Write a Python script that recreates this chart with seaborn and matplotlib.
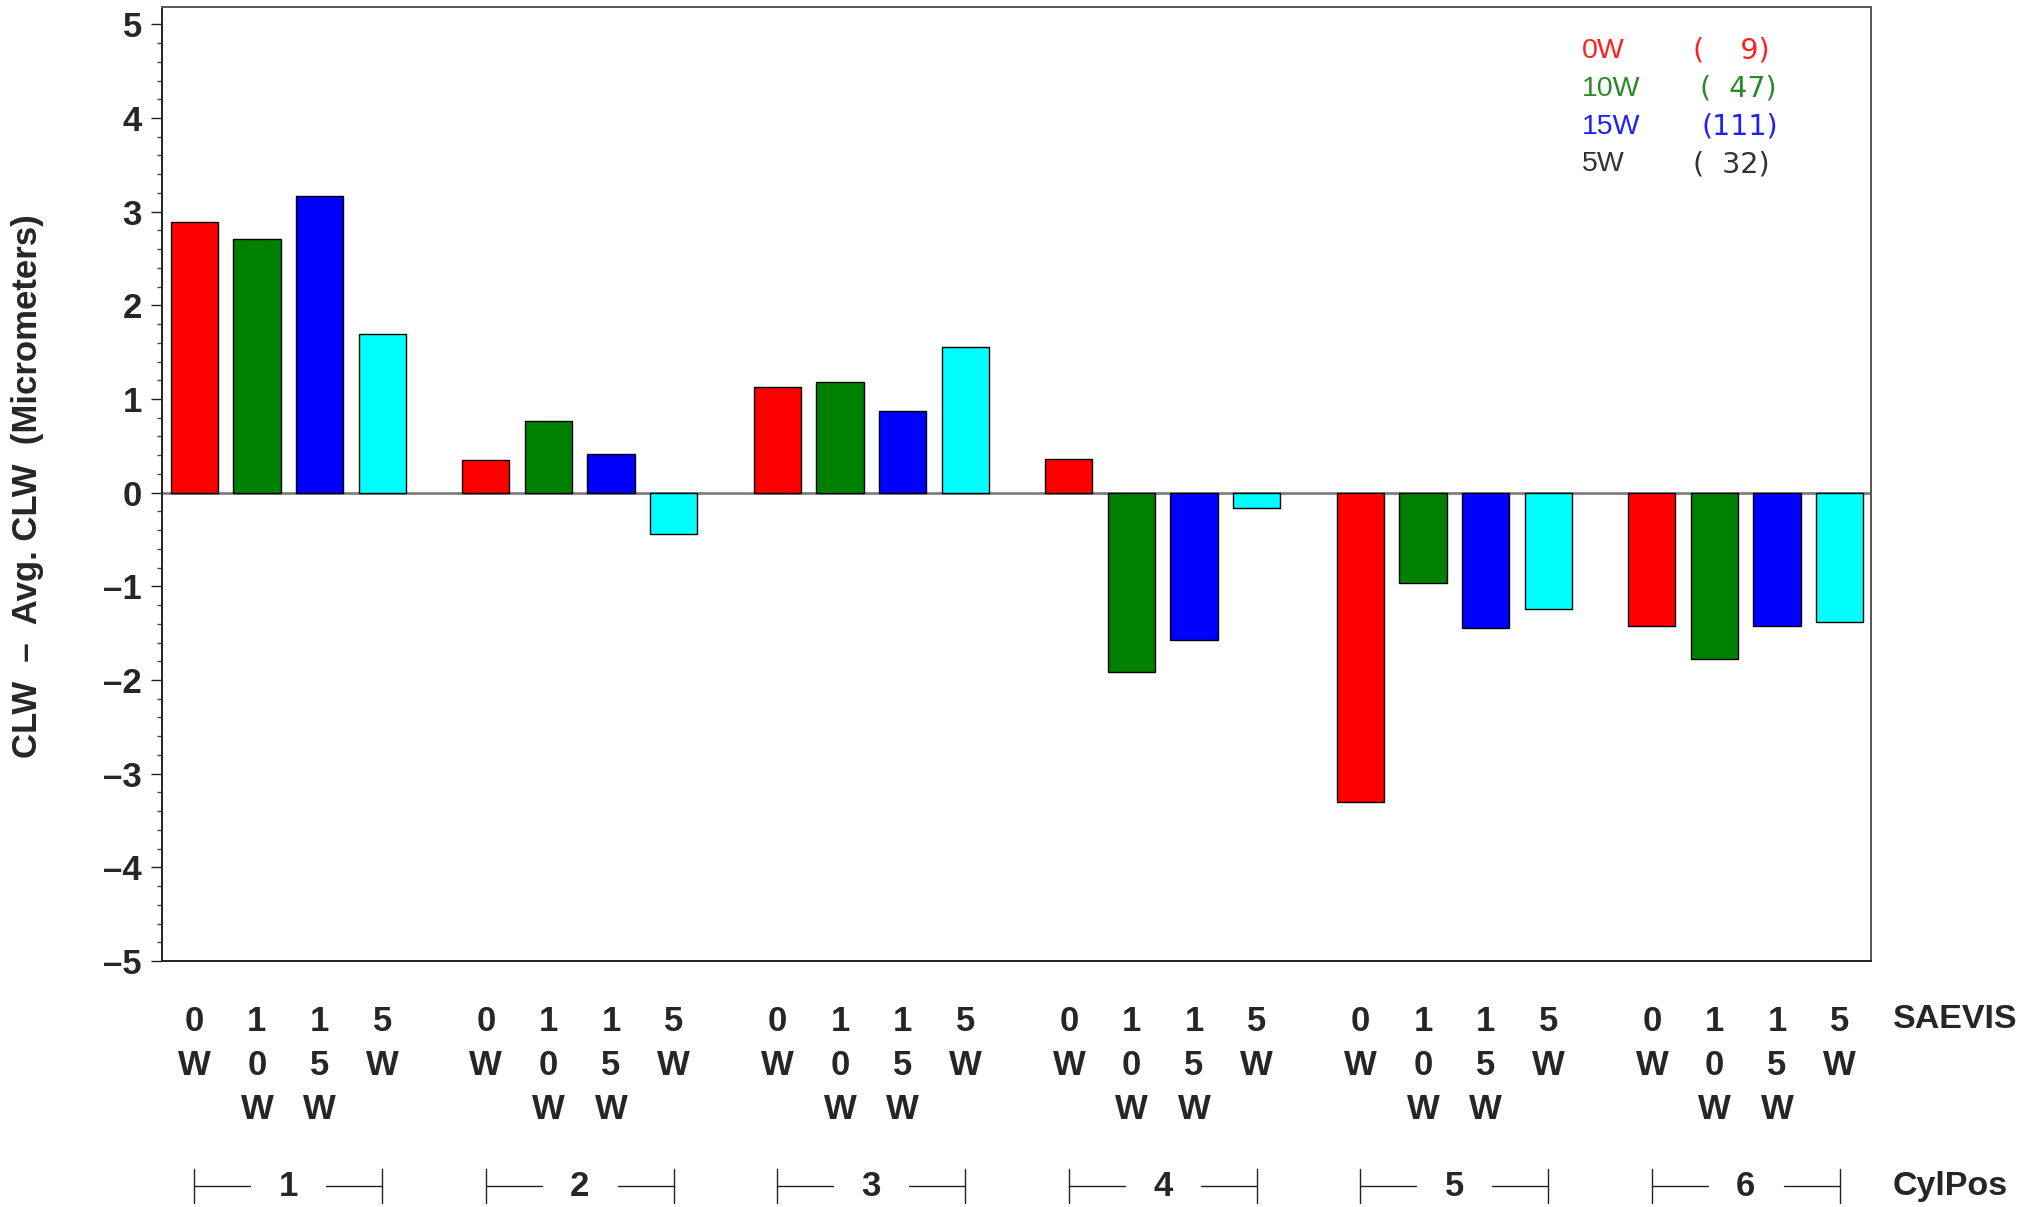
import numpy as np
import pandas as pd
import matplotlib
matplotlib.use("Agg")
import matplotlib.pyplot as plt
import matplotlib.transforms as mtransforms
import seaborn as sns
from matplotlib.ticker import MultipleLocator, FixedLocator

# ---- data ----
cyl_pos = ["1", "2", "3", "4", "5", "6"]
saevis = ["0W", "10W", "15W", "5W"]
vals_0w = [2.89, 0.35, 1.13, 0.36, -3.30, -1.42]
vals_10w = [2.71, 0.77, 1.18, -1.92, -0.96, -1.78]
vals_15w = [3.17, 0.41, 0.87, -1.57, -1.44, -1.42]
vals_5w = [1.69, -0.44, 1.55, -0.16, -1.24, -1.38]
counts = ["(  9)", "( 47)", "(111)", "( 32)"]

bar_colors = ["#ff0000", "#008000", "#0000ff", "#00ffff"]
legend_colors = ["#ff2020", "#2a8a2a", "#2020ff", "#333333"]

series = {"0W": vals_0w, "10W": vals_10w, "15W": vals_15w, "5W": vals_5w}
rows = []
for s in saevis:
    for c, v in zip(cyl_pos, series[s]):
        rows.append({"CylPos": c, "SAEVIS": s, "value": v})
df = pd.DataFrame(rows)

sns.set_style("white")
plt.rcParams["font.family"] = ["Liberation Sans", "DejaVu Sans"]

W, H = 2030, 1207
fig = plt.figure(figsize=(W / 100, H / 100), dpi=100)
ax = fig.add_axes([162.3 / W, 1 - 961 / H, (1870.7 - 162.3) / W, (961 - 6.7) / H])

sns.barplot(data=df, x="CylPos", y="value", hue="SAEVIS", hue_order=saevis,
            order=cyl_pos, palette=bar_colors, width=0.859, gap=0.245,
            edgecolor="black", linewidth=1.0, errorbar=None, legend=False,
            saturation=1, ax=ax)

ax.axhline(0, color="#808080", lw=2.0, zorder=0.5)
ax.set_xlim(-0.432, 5.4286)
ax.set_ylim(-5, 5.188)

# spines
for side in ["top", "right"]:
    ax.spines[side].set_color("#555555")
    ax.spines[side].set_linewidth(1.4)
for side in ["left", "bottom"]:
    ax.spines[side].set_color("#222222")
    ax.spines[side].set_linewidth(1.4)

# y axis ticks
ax.yaxis.set_major_locator(FixedLocator(np.arange(-5, 6, 1)))
ax.yaxis.set_minor_locator(MultipleLocator(0.2))
ax.set_yticklabels([(str(int(v)) if v >= 0 else "\u2013" + str(int(-v)))
                    for v in np.arange(-5, 6, 1)],
                   fontsize=25, fontweight="bold")
ax.tick_params(axis="y", which="major", direction="out", length=7.7, width=1.0,
               color="#222222", pad=7, left=True)
ax.tick_params(axis="y", which="minor", direction="out", length=3.6, width=1.0,
               color="#444444", left=True)
ax.set_ylabel("")
ax.set_xlabel("")

# x tick labels at bar centers
centers = sorted(p.get_x() + p.get_width() / 2 for p in ax.patches if p.get_width() > 0)
labels = []
for _c in cyl_pos:
    for s in saevis:
        labels.append("\n".join(list(s)))
ax.set_xticks(centers)
ax.set_xticklabels(labels, fontsize=25, fontweight="bold", linespacing=1.41)
ax.tick_params(axis="x", which="both", length=0, pad=32, bottom=True)

# y label
fig.text(28 / W, 1 - 486 / H, "CLW  \u2013  Avg. CLW  (Micrometers)", rotation=90,
         ha="center", va="center", fontsize=25, fontweight="bold")

# SAEVIS and CylPos labels
fig.text(1893 / W, 1 - 1019 / H, "SAEVIS", ha="left", va="center",
         fontsize=24.5, fontweight="bold")
fig.text(1893 / W, 1 - 1186 / H, "CylPos", ha="left", va="center",
         fontsize=24.5, fontweight="bold")

# group brackets
trans = mtransforms.blended_transform_factory(ax.transData, fig.transFigure)
yc = 1 - 1186 / H
y0 = 1 - 1169 / H
y1 = 1 - 1203 / H
gap_half = 0.13
for gi, g in enumerate(cyl_pos):
    left = centers[gi * 4]
    right = centers[gi * 4 + 3]
    mid = (left + right) / 2
    kw = dict(transform=trans, color="#222222", lw=1.0, clip_on=False)
    ax.plot([left, left], [y0, y1], **kw)
    ax.plot([right, right], [y0, y1], **kw)
    ax.plot([left, mid - gap_half], [yc, yc], **kw)
    ax.plot([mid + gap_half, right], [yc, yc], **kw)
    ax.text(mid, yc, g, transform=trans, ha="center", va="center",
            fontsize=25, fontweight="bold")

# legend text block
leg_y = [51, 89, 127, 164]
count_x = [1693, 1700, 1702, 1693]
for s, cnt, col, yy, cx in zip(saevis, counts, legend_colors, leg_y, count_x):
    fig.text(1582 / W, 1 - yy / H, s, color=col, ha="left", va="center",
             fontsize=20.5)
    fig.text(cx / W, 1 - yy / H, cnt.replace(" ", "\u2007"), color=col,
             ha="left", va="center", fontsize=20.5,
             family=["DejaVu Sans"])

fig.savefig("out.png", dpi=100)
